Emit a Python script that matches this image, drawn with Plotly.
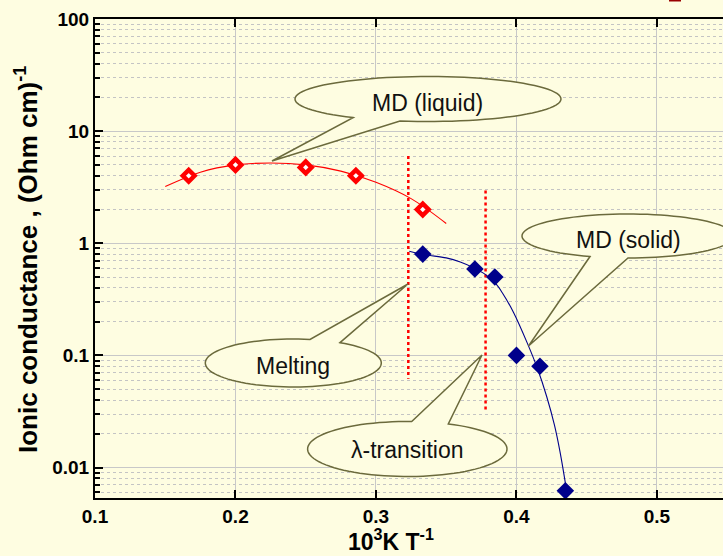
import math
import plotly.graph_objects as go

# ---------------- data ----------------
liquid_x = [0.1667, 0.2, 0.25, 0.2857, 0.3333]
liquid_y = [4.0, 5.0, 4.75, 4.0, 2.0]

solid_x = [0.3333, 0.3704, 0.3846, 0.4, 0.4167, 0.4348]
solid_y = [0.80, 0.59, 0.50, 0.10, 0.080, 0.0062]

liquid_fit_x = [0.15, 0.175, 0.2, 0.225, 0.25, 0.275, 0.3, 0.325, 0.35]
liquid_fit_y = [3.2, 4.3, 5.0, 5.2, 5.0, 4.4, 3.5, 2.5, 1.5]

solid_fit_x = [0.3237, 0.335, 0.35, 0.36, 0.37, 0.378, 0.385, 0.39, 0.398,
               0.408, 0.415, 0.4215, 0.427, 0.431, 0.4357]
solid_fit_y = [0.85, 0.79, 0.74, 0.68, 0.60, 0.525, 0.44, 0.36, 0.24,
               0.126, 0.076, 0.043, 0.024, 0.0138, 0.0062]

melting_x = [0.323, 0.323]
melting_y = [6.0, 0.062]
lambda_x = [0.378, 0.378]
lambda_y = [2.95, 0.031]

x_ticks = [0.1, 0.2, 0.3, 0.4, 0.5]
x_ticktext = ["0.1", "0.2", "0.3", "0.4", "0.5"]
y_ticks = [0.01, 0.1, 1, 10, 100]
y_ticktext = ["0.01", "0.1", "1", "10", "100"]

# ---------------- styling ----------------
BG = "#FEFDE1"
RED = "#FF0000"
BLUE = "#00008B"
OLIVE = "#6B6A3C"
FONT = "Liberation Sans, Arial, sans-serif"

W, H = 723, 556
ML, MR, MT, MB = 95, 0, 19, 58
PL, PR, PT, PB = ML, W - MR, MT, H - MB


def to_paper(px, py):
    return ((px - PL) / (PR - PL), (PB - py) / (PB - PT))


def callout_path(cx, cy, rx, ry, b1x, b2x, side, tip):
    # side: +1 base on bottom of ellipse (pixel y down), -1 base on top
    def ang(bx):
        u = max(-1.0, min(1.0, (bx - cx) / rx))
        return math.atan2(side * math.sqrt(1 - u * u), u)
    t1, t2 = ang(b1x), ang(b2x)
    d = (t2 - t1) % (2 * math.pi)
    if d < math.pi:
        start, span = t2, 2 * math.pi - d
    else:
        start, span = t1, d
    n = 90
    pts = []
    for i in range(n + 1):
        t = start + span * i / n
        pts.append(to_paper(cx + rx * math.cos(t), cy + ry * math.sin(t)))
    pts.append(to_paper(*tip))
    s = "M {:.5f},{:.5f} ".format(*pts[0])
    s += " ".join("L {:.5f},{:.5f}".format(*p) for p in pts[1:])
    return s + " Z"


fig = go.Figure()

# transition lines
fig.add_trace(go.Scatter(x=melting_x, y=melting_y, mode="lines",
                         line=dict(color=RED, width=2.5, dash="dot"), hoverinfo="skip"))
fig.add_trace(go.Scatter(x=lambda_x, y=lambda_y, mode="lines",
                         line=dict(color=RED, width=2.5, dash="dot"), hoverinfo="skip"))

# fits
fig.add_trace(go.Scatter(x=liquid_fit_x, y=liquid_fit_y, mode="lines",
                         line=dict(color=RED, width=1.1, shape="spline"), hoverinfo="skip"))
fig.add_trace(go.Scatter(x=solid_fit_x, y=solid_fit_y, mode="lines",
                         line=dict(color=BLUE, width=1.1, shape="spline"), hoverinfo="skip"))

# points
fig.add_trace(go.Scatter(x=liquid_x, y=liquid_y, mode="markers",
                         marker=dict(symbol="diamond", size=9, color="white",
                                     line=dict(color=RED, width=4.5))))
fig.add_trace(go.Scatter(x=solid_x, y=solid_y, mode="markers",
                         marker=dict(symbol="diamond", size=13.5, color=BLUE,
                                     line=dict(width=0))))

# callouts
callouts = [
    dict(text="MD (liquid)", cx=428, cy=99, rx=133, ry=22.5, b1=353, b2=400, side=1, tip=(272, 161), tx=427, ty=103),
    dict(text="MD (solid)", cx=628, cy=236, rx=106, ry=22, b1=590, b2=628, side=1, tip=(528.5, 346), tx=628, ty=240),
    dict(text="Melting", cx=293.3, cy=363, rx=88, ry=24, b1=310, b2=340, side=-1, tip=(408, 284), tx=293, ty=366),
    dict(text="\u03bb-transition", cx=407.3, cy=449, rx=99.7, ry=27.5, b1=411.7, b2=448.3, side=-1, tip=(482, 355), tx=407, ty=450),
]
shapes = []
annotations = []
for c in callouts:
    shapes.append(dict(type="path", xref="paper", yref="paper",
                       path=callout_path(c["cx"], c["cy"], c["rx"], c["ry"], c["b1"], c["b2"], c["side"], c["tip"]),
                       fillcolor=BG, line=dict(color=OLIVE, width=1.5), layer="above"))
    ax, ay = to_paper(c["tx"], c["ty"])
    annotations.append(dict(x=ax, y=ay, xref="paper", yref="paper", text=c["text"], showarrow=False,
                            font=dict(family=FONT, size=23, color="#111111"),
                            xanchor="center", yanchor="middle"))

# small red mark at top right
x0, y0 = to_paper(669, 1.5)
x1, y1 = to_paper(681, 0)
shapes.append(dict(type="rect", xref="paper", yref="paper", x0=x0, y0=y0, x1=x1, y1=y1,
                   fillcolor="#990000", line=dict(width=0), layer="above"))

# axis titles
tx, ty = to_paper(391, 540)
annotations.append(dict(x=tx, y=ty, xref="paper", yref="paper",
                        text="10<sup>3</sup>K T<sup>-1</sup>", showarrow=False,
                        font=dict(family=FONT, size=23, color="black", weight="bold"),
                        xanchor="center", yanchor="middle"))
tx, ty = to_paper(26, 260)
annotations.append(dict(x=tx, y=ty, xref="paper", yref="paper",
                        text="Ionic conductance , (Ohm cm)<sup>-1</sup>", showarrow=False,
                        textangle=-90,
                        font=dict(family=FONT, size=26, color="black", weight="bold"),
                        xanchor="center", yanchor="middle"))

minor_vals = [m * 10 ** k for k in range(-3, 2) for m in range(2, 10)]

fig.update_layout(
    width=W, height=H,
    margin=dict(l=ML, r=MR, t=MT, b=MB),
    paper_bgcolor=BG, plot_bgcolor=BG,
    showlegend=False,
    shapes=shapes, annotations=annotations,
    xaxis=dict(range=[0.1, 0.547], tickmode="array", tickvals=x_ticks, ticktext=x_ticktext,
               ticks="inside", ticklen=8, tickwidth=2, tickcolor="black",
               showline=True, linewidth=2, linecolor="black", mirror="ticks",
               showgrid=True, gridcolor="#c8c8c8", gridwidth=1, zeroline=False,
               tickfont=dict(family=FONT, size=19, color="black", weight="bold")),
    yaxis=dict(type="log", range=[-2.272, 2.0], tickmode="array", tickvals=y_ticks, ticktext=y_ticktext,
               ticks="inside", ticklen=8, tickwidth=2, tickcolor="black",
               showline=True, linewidth=2, linecolor="black", mirror=False,
               showgrid=True, gridcolor="#c8c8c8", gridwidth=1, zeroline=False,
               tickfont=dict(family=FONT, size=19, color="black", weight="bold"),
               minor=dict(tickmode="array", tickvals=minor_vals, ticks="inside", ticklen=5,
                          tickwidth=1.5, tickcolor="black", showgrid=True,
                          gridcolor="#c4c4c4", griddash="dot", gridwidth=1)),
)

fig.write_html("out.html", config={"displayModeBar": False},
               post_script="document.body.style.margin='0px';document.body.style.overflow='hidden';")
